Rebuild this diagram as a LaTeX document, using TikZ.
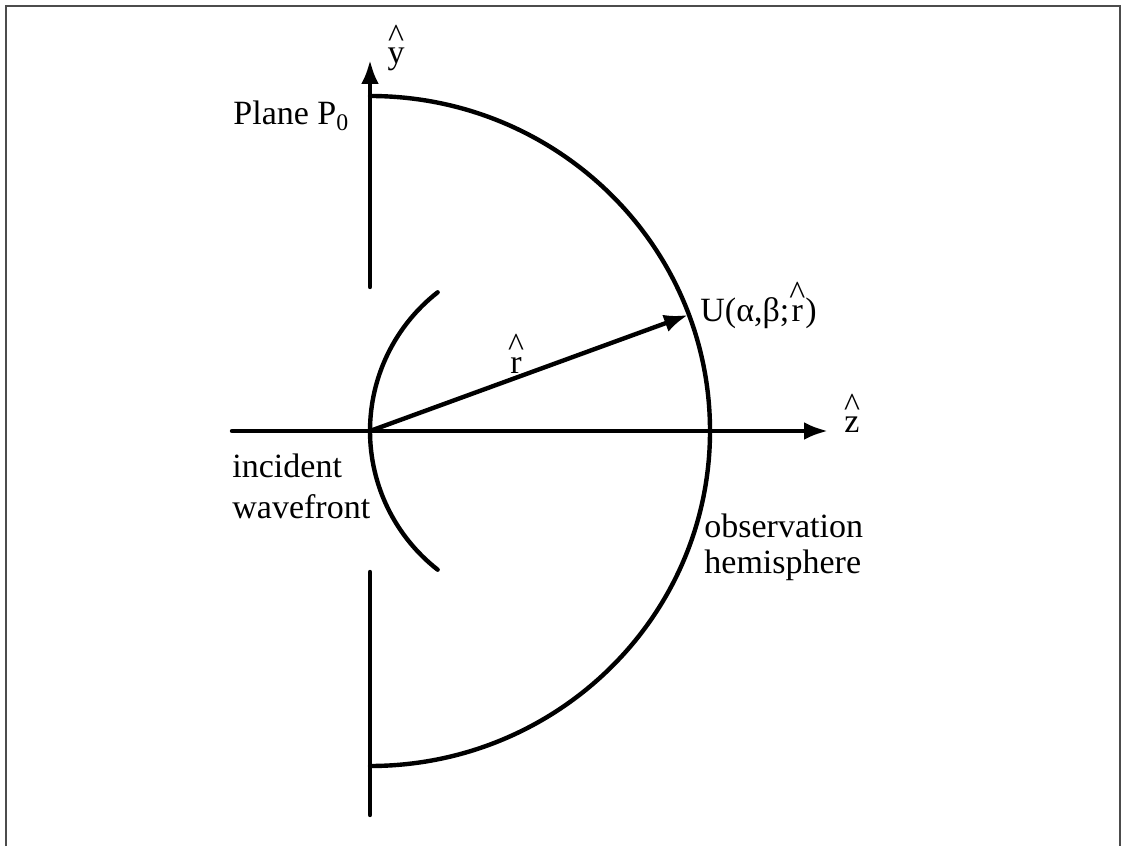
\documentclass[tikz,border=0pt]{standalone}
\usepackage{fontspec}
\setmainfont{Liberation Serif}
\usetikzlibrary{arrows.meta}
\newcommand\hatof[1]{\leavevmode\vbox{\offinterlineskip\halign{\hfil##\hfil\cr\textasciicircum\cr\noalign{\kern0.5pt}#1\cr}}}
\begin{document}
\begin{tikzpicture}[x=0.5pt,y=0.5pt,
  axis/.style={line width=2.2pt, line cap=round},
  arr/.style={-{Latex[length=12pt,width=9pt]}},
  lbl/.style={font=\fontsize{17}{20}\selectfont, inner sep=0pt, anchor=base west}]
\useasboundingbox (0,0) rectangle (1122,846);
% frame
\draw[line width=0.7pt, black!70] (6,0) -- (6,840) -- (1120,840) -- (1120,0);
% coordinates
\coordinate (O) at (370,415);
\coordinate (ytop) at (370,786);
\coordinate (pl1) at (370,559);
\coordinate (pl2) at (370,274);
\coordinate (pl3) at (370,31);
\coordinate (zl) at (232,415);
\coordinate (zr) at (828,415);
\coordinate (htop) at (370,750);
\coordinate (U) at (688,531);
% plane P0 and y axis
\draw[axis,arr] (pl1) -- (ytop);
\draw[axis] (pl2) -- (pl3);
% z axis
\draw[axis,arr] (zl) -- (zr);
% observation hemisphere
\draw[axis] (htop) arc[start angle=90,end angle=-90,x radius=170pt,y radius=167.5pt];
% incident wavefront
\draw[axis] (O) arc[start angle=180,end angle=128,radius=88pt];
\draw[axis] (O) arc[start angle=180,end angle=232,radius=88pt];
% r vector
\draw[axis,arr] (O) -- (U);
% labels
\node[lbl] (plane) at (233,721) {Plane P\textsubscript{0}};
\node[lbl] (ulbl) at (700,524) {U(α,β;\hatof{r})};
\node[lbl, anchor=base] (rlbl) at (516,472) {\hatof{r}};
\node[lbl, anchor=base] (zlbl) at (852,413) {\hatof{z}};
\node[lbl, anchor=base] (ylbl) at (396,782) {\hatof{y}};
\node[lbl] (inc1) at (232,368) {incident};
\node[lbl] (inc2) at (232,328) {wavefront};
\node[lbl] (obs1) at (704,308) {observation};
\node[lbl] (obs2) at (704,273) {hemisphere};
\end{tikzpicture}
\end{document}
